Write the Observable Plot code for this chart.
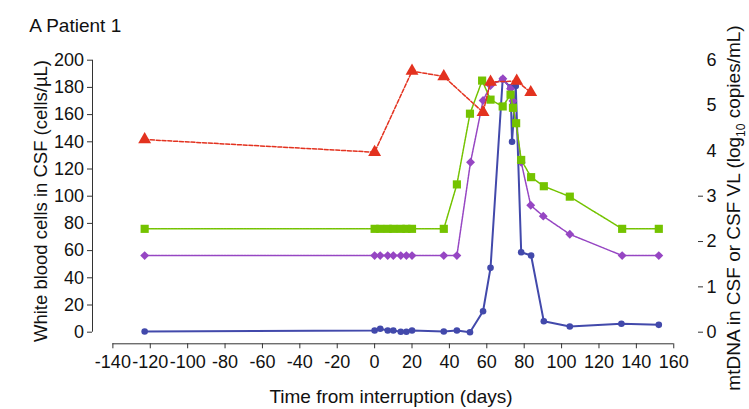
<!DOCTYPE html>
<html><head><meta charset="utf-8">
<script src="https://cdn.jsdelivr.net/npm/d3@7"></script>
<script src="https://cdn.jsdelivr.net/npm/@observablehq/plot@0.6"></script>
<style>
body{margin:0;background:#fff}
svg{font-family:"Liberation Sans",Arial,Helvetica,sans-serif}
</style>
</head><body><div id="chart"></div>
<script>
// Time from interruption (days) and values
const redDays = [-123, 0, 20, 37, 58, 62, 76, 83.5];
const redVals = [4.25, 3.97, 5.76, 5.64, 4.85, 5.52, 5.54, 5.29]; // log10 copies/mL (right axis)

const greenDays = [-123, 0, 3, 7, 10, 14, 17, 20, 37, 44, 51, 57.5, 62, 68.5, 72.7, 74, 75.7, 78.4, 83.7, 90.5, 104.4, 132.4, 152];
const greenVals = [2.28, 2.28, 2.28, 2.28, 2.28, 2.28, 2.28, 2.28, 2.28, 3.26, 4.82, 5.55, 5.13, 4.98, 5.24, 4.95, 4.61, 3.80, 3.42, 3.22, 2.99, 2.28, 2.28];

const purpleDays = [-123, 0, 3, 7, 10, 14, 17, 20, 37, 44, 51.3, 58, 62, 68.6, 72.7, 74, 78.4, 83.5, 90.2, 104.4, 132.4, 152];
const purpleVals = [1.69, 1.69, 1.69, 1.69, 1.69, 1.69, 1.69, 1.69, 1.69, 1.69, 3.75, 5.11, 5.44, 5.59, 5.37, 5.1, 3.75, 2.80, 2.56, 2.16, 1.69, 1.69];

const blueDays = [-123, 0, 3, 7, 10, 14, 17, 20, 37, 44, 51, 58, 62, 68.5, 72.7, 73.5, 75.5, 78.4, 83.7, 90.5, 104.4, 132, 152];
const blueVals = [0.5, 1.2, 2.5, 1.2, 1.2, 0.3, 0.3, 1.2, 0.5, 1.2, 0, 15.4, 47.3, 186, 180, 140, 181, 58.8, 56.4, 8, 4.2, 6.2, 5.4]; // cells/µL (left axis)

const xTicks = [-140, -120, -100, -80, -60, -40, -20, 0, 20, 40, 60, 80, 100, 120, 140, 160];
const leftTicks = [0, 20, 40, 60, 80, 100, 120, 140, 160, 180, 200];
const rightTicksLow = [0, 1, 2, 3];
const rightTicksHigh = [4, 5, 6];

const k = 200 / 6; // right axis (0–6) mapped onto left axis (0–200)
const toRows = (days, vals, f) => days.map((d, i) => ({day: d, v: vals[i] * f}));

const red = toRows(redDays, redVals, k);
const green = toRows(greenDays, greenVals, k);
const purple = toRows(purpleDays, purpleVals, k);
const blue = toRows(blueDays, blueVals, 1);

const cRed = "#e3321f", cGreen = "#74c300", cPurple = "#9646c3", cBlue = "#4249ab";
const axisCol = "#333";
const xLeft = -150.9, xRight = 172.7;
const FS = 18;

const chart = Plot.plot({
  width: 749, height: 409,
  marginLeft: 92, marginRight: 52, marginTop: 60, marginBottom: 65.7,
  style: {fontFamily: '"Liberation Sans",Arial,sans-serif', fontSize: "18px", background: "#fff", color: "#111"},
  x: {domain: [xLeft, xRight]},
  y: {domain: [0, 200], range: [331.7, 59.7]},
  marks: [
    Plot.ruleX([xLeft], {y1: 0, y2: 200, stroke: axisCol, strokeWidth: 1}),
    Plot.ruleY([0], {x1: xTicks[0], x2: xTicks[xTicks.length - 1], dy: 11.6, stroke: axisCol, strokeWidth: 1}),
    Plot.axisX(xTicks, {tickSize: 5, tickPadding: 6, tickFormat: d => String(d), label: null, stroke: axisCol, fill: "#111", fontSize: FS}),
    Plot.axisY(leftTicks, {anchor: "left", tickSize: 5, tickPadding: 3.5, tickFormat: d => String(d), label: null, stroke: axisCol, fill: "#111", fontSize: FS}),
    Plot.axisY(rightTicksLow.map(v => v * k), {anchor: "right", tickSize: 5, tickPadding: 4, tickFormat: d => String(Math.round(d / k)), label: null, stroke: axisCol, fill: "#111", fontSize: FS}),
    Plot.axisY(rightTicksHigh.map(v => v * k), {anchor: "right", tickSize: 0, tickPadding: 9, tickFormat: d => String(Math.round(d / k)), label: null, fill: "#111", fontSize: FS}),

    Plot.line(blue, {x: "day", y: "v", stroke: cBlue, strokeWidth: 2}),
    Plot.dot(blue, {x: "day", y: "v", symbol: "circle", r: 3.3, fill: cBlue}),

    Plot.line(purple, {x: "day", y: "v", stroke: cPurple, strokeWidth: 1.5, strokeDasharray: "2.5,0.8"}),
    Plot.dot(purple, {x: "day", y: "v", symbol: "diamond2", r: 4, fill: cPurple}),

    Plot.line(green, {x: "day", y: "v", stroke: cGreen, strokeWidth: 1.5, strokeDasharray: "2.5,0.8"}),
    Plot.dot(green, {x: "day", y: "v", symbol: "square", r: 4.6, fill: cGreen}),

    Plot.line(red, {x: "day", y: "v", stroke: cRed, strokeWidth: 1.5, strokeDasharray: "4,1.8"}),
    Plot.dot(red, {x: "day", y: "v", symbol: "triangle", r: 4.8, fill: cRed})
  ]
});

const svg = d3.select(chart);
svg.append("text").attr("x", 29.3).attr("y", 32.3).attr("text-anchor", "start").attr("font-size", 19).attr("fill", "#111").text("A Patient 1");
svg.append("text").attr("x", 391).attr("y", 403.3).attr("text-anchor", "middle").attr("font-size", 19).attr("fill", "#111")
  .text("Time from interruption (days)");
svg.append("text").attr("transform", "translate(47.3,201) rotate(-90)").attr("text-anchor", "middle").attr("font-size", 18.5).attr("fill", "#111")
  .text("White blood cells in CSF (cells/µL)");
const rt = svg.append("text").attr("transform", "translate(740.3,208) rotate(-90)").attr("text-anchor", "middle").attr("font-size", 19).attr("fill", "#111");
rt.append("tspan").text("mtDNA in CSF or CSF VL (log");
rt.append("tspan").attr("font-size", 12).attr("dy", 5).text("10");
rt.append("tspan").attr("dy", -5).text(" copies/mL)");

document.getElementById("chart").appendChild(chart);
</script>
</body></html>
